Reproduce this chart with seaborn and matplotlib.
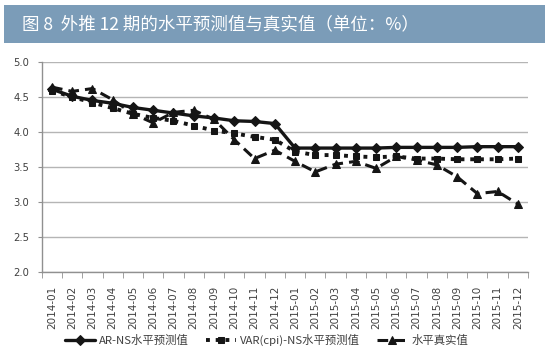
import pandas as pd
import seaborn as sns
import numpy as np
import matplotlib.pyplot as plt
from matplotlib.patches import Rectangle

months = ["2014-01", "2014-02", "2014-03", "2014-04", "2014-05", "2014-06",
          "2014-07", "2014-08", "2014-09", "2014-10", "2014-11", "2014-12",
          "2015-01", "2015-02", "2015-03", "2015-04", "2015-05", "2015-06",
          "2015-07", "2015-08", "2015-09", "2015-10", "2015-11", "2015-12"]
ar_ns = [4.61, 4.51, 4.45, 4.41, 4.35, 4.31, 4.27, 4.23, 4.20, 4.16, 4.15, 4.12,
         3.77, 3.77, 3.77, 3.77, 3.77, 3.78, 3.78, 3.78, 3.78, 3.79, 3.79, 3.79]
var_ns = [4.59, 4.50, 4.42, 4.34, 4.26, 4.20, 4.16, 4.09, 4.02, 3.98, 3.93, 3.89,
          3.72, 3.67, 3.67, 3.65, 3.64, 3.65, 3.62, 3.62, 3.61, 3.61, 3.61, 3.62]
actual = [4.64, 4.58, 4.62, 4.46, 4.26, 4.13, 4.28, 4.31, 4.18, 3.89, 3.62, 3.74,
          3.58, 3.43, 3.54, 3.58, 3.48, 3.65, 3.60, 3.53, 3.36, 3.12, 3.15, 2.97]
labels = ["AR-NS水平预测值", "VAR(cpi)-NS水平预测值", "水平真实值"]
title = "图 8  外推 12 期的水平预测值与真实值（单位：%）"

sns.set_style("white")
plt.rcParams['font.family'] = ['Noto Sans CJK SC', 'DejaVu Sans']

x = np.arange(len(months))
fig = plt.figure(figsize=(5.5, 3.54), dpi=100)
ax = fig.add_axes([0.076, 0.2316, 0.884, 0.5934])

ink = "#151515"
sns.lineplot(x=x, y=ar_ns, ax=ax, color=ink, linewidth=2.4, linestyle="-",
             marker="D", markersize=5, markeredgecolor=ink, label=labels[0])
sns.lineplot(x=x, y=var_ns, ax=ax, color=ink, linewidth=2.8, linestyle=(0, (1, 1.5)),
             marker="s", markersize=5, markeredgecolor=ink, label=labels[1])
sns.lineplot(x=x, y=actual, ax=ax, color=ink, linewidth=2.2, linestyle=(0, (3.5, 2)),
             marker="^", markersize=6, markeredgecolor=ink, label=labels[2])

ax.set_xlim(-0.5, len(months) - 0.5)
ax.set_ylim(2.0, 5.0)
yt = np.arange(2.0, 5.01, 0.5)
ax.set_yticks(yt)
ax.set_yticklabels([f"{v:.1f}" for v in yt], fontsize=7.2, color="#404040", family="DejaVu Sans")
ax.yaxis.grid(True, color="#b5b5b5", linewidth=1)
ax.set_axisbelow(True)

ax.set_xticks(x)
ax.set_xticklabels(months, rotation=90, fontsize=7.5, color="#404040", family="DejaVu Sans")
ax.set_xticks(np.arange(-0.5, len(months), 1), minor=True)
ax.tick_params(axis="x", which="major", length=0, pad=10)
ax.tick_params(axis="x", which="minor", length=4, direction="out", color="#909090", bottom=True)
ax.tick_params(axis="y", length=3, direction="out", color="#909090", left=True, pad=6)

for s in ["top", "right"]:
    ax.spines[s].set_visible(False)
for s in ["left", "bottom"]:
    ax.spines[s].set_color("#909090")
    ax.spines[s].set_linewidth(1)

ax.get_legend().remove()
h, l = ax.get_legend_handles_labels()
fig.legend(h, l, loc="center", bbox_to_anchor=(0.485, 0.04), ncol=3, frameon=False,
           fontsize=8.2, handlelength=2.6, columnspacing=1.5, handletextpad=0.4,
           labelcolor="#404040", borderpad=0)

fig.patches.append(Rectangle((4 / 550, 1 - 43 / 354), 541 / 550, 38 / 354,
                             transform=fig.transFigure, facecolor="#7b9cb8",
                             edgecolor="none", zorder=0))
fig.text(22 / 550, 1 - 24 / 354, title, color="white", fontsize=12.6, va="center", ha="left")

fig.savefig("out.png", dpi=100)
